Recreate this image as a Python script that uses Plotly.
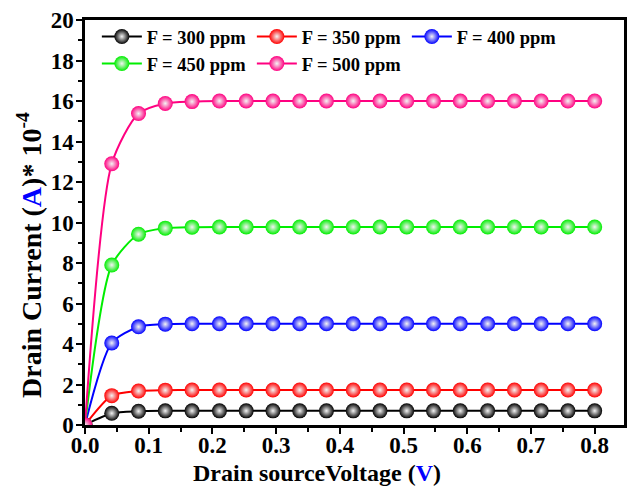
import plotly.graph_objects as go

voltage = [0, 0.042, 0.084, 0.126, 0.168, 0.211, 0.253, 0.295, 0.337, 0.379,
           0.421, 0.463, 0.505, 0.547, 0.589, 0.632, 0.674, 0.716, 0.758, 0.8]

i_300 = [0, 0.58, 0.68, 0.70, 0.70, 0.70, 0.70, 0.70, 0.70, 0.70,
         0.70, 0.70, 0.70, 0.70, 0.70, 0.70, 0.70, 0.70, 0.70, 0.70]
i_350 = [0, 1.45, 1.68, 1.72, 1.73, 1.73, 1.73, 1.73, 1.73, 1.73,
         1.73, 1.73, 1.73, 1.73, 1.73, 1.73, 1.73, 1.73, 1.73, 1.73]
i_400 = [0, 4.05, 4.85, 4.98, 5.0, 5.0, 5.0, 5.0, 5.0, 5.0,
         5.0, 5.0, 5.0, 5.0, 5.0, 5.0, 5.0, 5.0, 5.0, 5.0]
i_450 = [0, 7.9, 9.42, 9.72, 9.77, 9.78, 9.78, 9.78, 9.78, 9.78,
         9.78, 9.78, 9.78, 9.78, 9.78, 9.78, 9.78, 9.78, 9.78, 9.78]
i_500 = [0, 12.9, 15.38, 15.88, 15.97, 16.0, 16.0, 16.0, 16.0, 16.0,
         16.0, 16.0, 16.0, 16.0, 16.0, 16.0, 16.0, 16.0, 16.0, 16.0]

series_names = ["F = 300 ppm", "F = 350 ppm", "F = 400 ppm", "F = 450 ppm", "F = 500 ppm"]
series_values = [i_300, i_350, i_400, i_450, i_500]
series_colors = ["#000000", "#ff0000", "#0000ff", "#00ee00", "#ff0080"]

x_ticks = [0.0, 0.1, 0.2, 0.3, 0.4, 0.5, 0.6, 0.7, 0.8]
y_ticks = [0, 2, 4, 6, 8, 10, 12, 14, 16, 18, 20]

x_title = "<b>Drain sourceVoltage (<span style='color:#0000ff'>V</span>)</b>"
y_title = "<b>Drain Current (<span style='color:#0000ff'>A</span>)* 10<sup>-4</sup></b>"

FONT = "Liberation Serif"

fig = go.Figure()
for name, vals, col in zip(series_names, series_values, series_colors):
    fig.add_trace(go.Scatter(
        x=voltage, y=vals, name=name, mode="lines+markers",
        line=dict(color=col, width=2, shape="spline", smoothing=0.7),
        marker=dict(size=15, color=col,
                    gradient=dict(type="radial", color="#f4f4f4"),
                    line=dict(width=0)),
        cliponaxis=True,
    ))

axis_common = dict(
    showline=True, linecolor="black", linewidth=2.5, mirror=True,
    ticks="outside", ticklen=6, tickwidth=2, tickcolor="black",
    showgrid=False, zeroline=False,
    tickfont=dict(family=FONT, size=23, color="black", weight="bold"),
)

fig.update_xaxes(
    range=[0, 0.846], tickvals=x_ticks, tickformat=".1f",
    minor=dict(dtick=0.05, tick0=0, ticks="outside", ticklen=4, tickwidth=2, tickcolor="black"),
    ticklabelstandoff=-8,
    **axis_common,
)
fig.update_yaxes(
    range=[0, 20], tickvals=y_ticks,
    minor=dict(dtick=1, tick0=0, ticks="outside", ticklen=4, tickwidth=2, tickcolor="black"),
    ticklabelstandoff=-2,
    **axis_common,
)

fig.add_annotation(
    text=x_title, xref="paper", yref="paper", x=0.43, y=-0.082,
    xanchor="center", yanchor="top", showarrow=False,
    font=dict(family=FONT, size=24, color="black"),
)
fig.add_annotation(
    text=y_title, xref="paper", yref="paper", x=-0.102, y=0.42,
    xanchor="center", yanchor="middle", showarrow=False, textangle=-90,
    font=dict(family=FONT, size=28, color="black"),
)

fig.update_layout(
    width=628, height=488,
    margin=dict(l=85, r=1, t=20, b=63),
    paper_bgcolor="white", plot_bgcolor="white",
    showlegend=True,
    legend=dict(
        orientation="h", x=0.022, y=1.005, xanchor="left", yanchor="top",
        font=dict(family=FONT, size=18.5, color="black", weight="bold"),
        bgcolor="rgba(0,0,0,0)", entrywidth=100, entrywidthmode="pixels",
        itemwidth=40, tracegroupgap=0,
    ),
)

fig.write_html("out.html")
